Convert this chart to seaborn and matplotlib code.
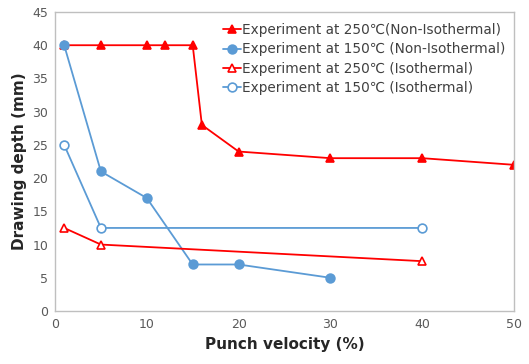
import matplotlib
matplotlib.use("Agg")
import matplotlib.pyplot as plt
import seaborn as sns
import pandas as pd

x_250_non = [1, 5, 10, 12, 15, 16, 20, 30, 40, 50]
y_250_non = [40, 40, 40, 40, 40, 28, 24, 23, 23, 22]
x_150_non = [1, 5, 10, 15, 20, 30]
y_150_non = [40, 21, 17, 7, 7, 5]
x_250_iso = [1, 5, 40]
y_250_iso = [12.5, 10, 7.5]
x_150_iso = [1, 5, 40]
y_150_iso = [25, 12.5, 12.5]

labels = ["Experiment at 250\u2103(Non-Isothermal)",
          "Experiment at 150\u2103 (Non-Isothermal)",
          "Experiment at 250\u2103 (Isothermal)",
          "Experiment at 150\u2103 (Isothermal)"]

sns.set_theme(style="white")
plt.rcParams['font.family'] = ['DejaVu Sans', 'Noto Sans CJK SC']

RED = "#FF0000"
BLUE = "#5B9BD5"

fig = plt.figure(figsize=(5.29, 3.64), dpi=100)
ax = fig.add_axes([55/529, 1 - 311/364, (514-55)/529, (311-12)/364])

series = [
    (x_250_non, y_250_non, labels[0], RED, "^", RED),
    (x_150_non, y_150_non, labels[1], BLUE, "o", BLUE),
    (x_250_iso, y_250_iso, labels[2], RED, "^", "white"),
    (x_150_iso, y_150_iso, labels[3], BLUE, "o", "white"),
]
for xs, ys, lab, col, mk, fc in series:
    df = pd.DataFrame({"x": xs, "y": ys})
    sns.lineplot(data=df, x="x", y="y", ax=ax, color=col, marker=mk,
                 markersize=6.3, markerfacecolor=fc, markeredgecolor=col,
                 markeredgewidth=1.2, linewidth=1.3, label=lab)

ax.set_xlim(0, 50)
ax.set_ylim(0, 45)
ax.set_xticks(range(0, 51, 10))
ax.set_yticks(range(0, 46, 5))
ax.tick_params(axis='both', labelsize=9, colors="#595959", length=0, pad=5)
for s in ax.spines.values():
    s.set_color("#BFBFBF")
    s.set_linewidth(1)
ax.set_xlabel("Punch velocity (%)", fontsize=11, fontweight="bold", color="#262626")
ax.set_ylabel("Drawing depth (mm)", fontsize=11, fontweight="bold", color="#262626")

leg = ax.legend(loc="upper right", frameon=False, fontsize=9.8, handlelength=1.3,
                handletextpad=0.1, labelspacing=0.38, borderaxespad=0.2,
                bbox_to_anchor=(1.0, 0.99))
for t in leg.get_texts():
    t.set_color("#404040")

fig.savefig("out.png", dpi=100)
